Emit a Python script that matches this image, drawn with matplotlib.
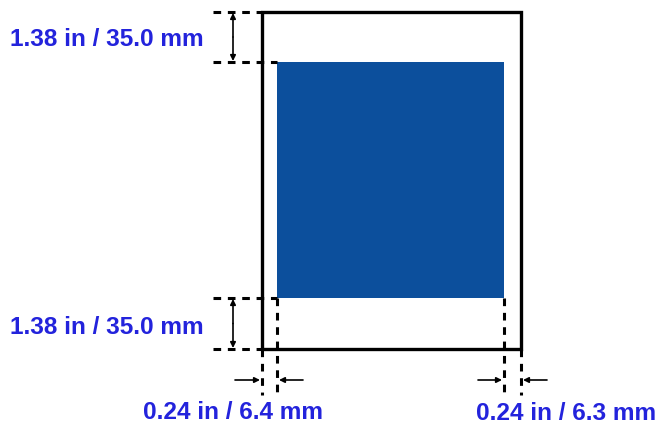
import matplotlib.pyplot as plt
from matplotlib.patches import Rectangle

# page geometry in pixels (x right, y down)
paper = [262, 12, 521, 349]      # left, top, right, bottom
printarea = [277, 62, 504, 298]
labels = ["1.38 in / 35.0 mm", "1.38 in / 35.0 mm", "0.24 in / 6.4 mm", "0.24 in / 6.3 mm"]
label_pos = [(10, 46), (10, 334), (143, 419), (476, 420)]

txt_color = "#2323dc"
fill_color = "#0c4f9c"

fig = plt.figure(figsize=(6.6, 4.26), dpi=100)
ax = fig.add_axes([0, 0, 1, 1])
ax.set_xlim(0, 660)
ax.set_ylim(426, 0)
ax.axis("off")

L, T, R, B = paper
ax.add_patch(Rectangle((L, T), R - L, B - T, fill=False, ec="black", lw=2.4))
l, t, r, b = printarea
ax.add_patch(Rectangle((l, t), r - l, b - t, fc=fill_color, ec="none"))

dash = dict(color="black", lw=2.2, ls=(0, (2.5, 2.2)))
# left horizontal guides
ax.plot([213, L], [T, T], **dash)
ax.plot([213, l], [t, t], **dash)
ax.plot([213, l], [b, b], **dash)
ax.plot([213, L], [B, B], **dash)
# vertical guides under the paper
for x, y0 in [(L, B), (l, b), (r, b), (R, B)]:
    ax.plot([x, x], [y0, 395], **dash)

arr = dict(arrowstyle="-|>", color="black", lw=1.2, mutation_scale=8, shrinkA=0, shrinkB=0)
# vertical dimension arrows
for y0, y1 in [(T, t), (b, B)]:
    ym = (y0 + y1) / 2
    ax.annotate("", xy=(233, y0 + 1), xytext=(233, ym), arrowprops=arr)
    ax.annotate("", xy=(233, y1 - 1), xytext=(233, ym), arrowprops=arr)
# horizontal dimension arrows
ya = 380
ax.annotate("", xy=(L - 2, ya), xytext=(235, ya), arrowprops=arr)
ax.annotate("", xy=(l + 2, ya), xytext=(303, ya), arrowprops=arr)
ax.annotate("", xy=(r - 2, ya), xytext=(478, ya), arrowprops=arr)
ax.annotate("", xy=(R + 2, ya), xytext=(547, ya), arrowprops=arr)

for s, (x, y) in zip(labels, label_pos):
    ax.text(x, y, s, color=txt_color, fontsize=17.6, fontweight="bold",
            family="Liberation Sans", ha="left", va="baseline")

fig.savefig("out.png", dpi=100)
